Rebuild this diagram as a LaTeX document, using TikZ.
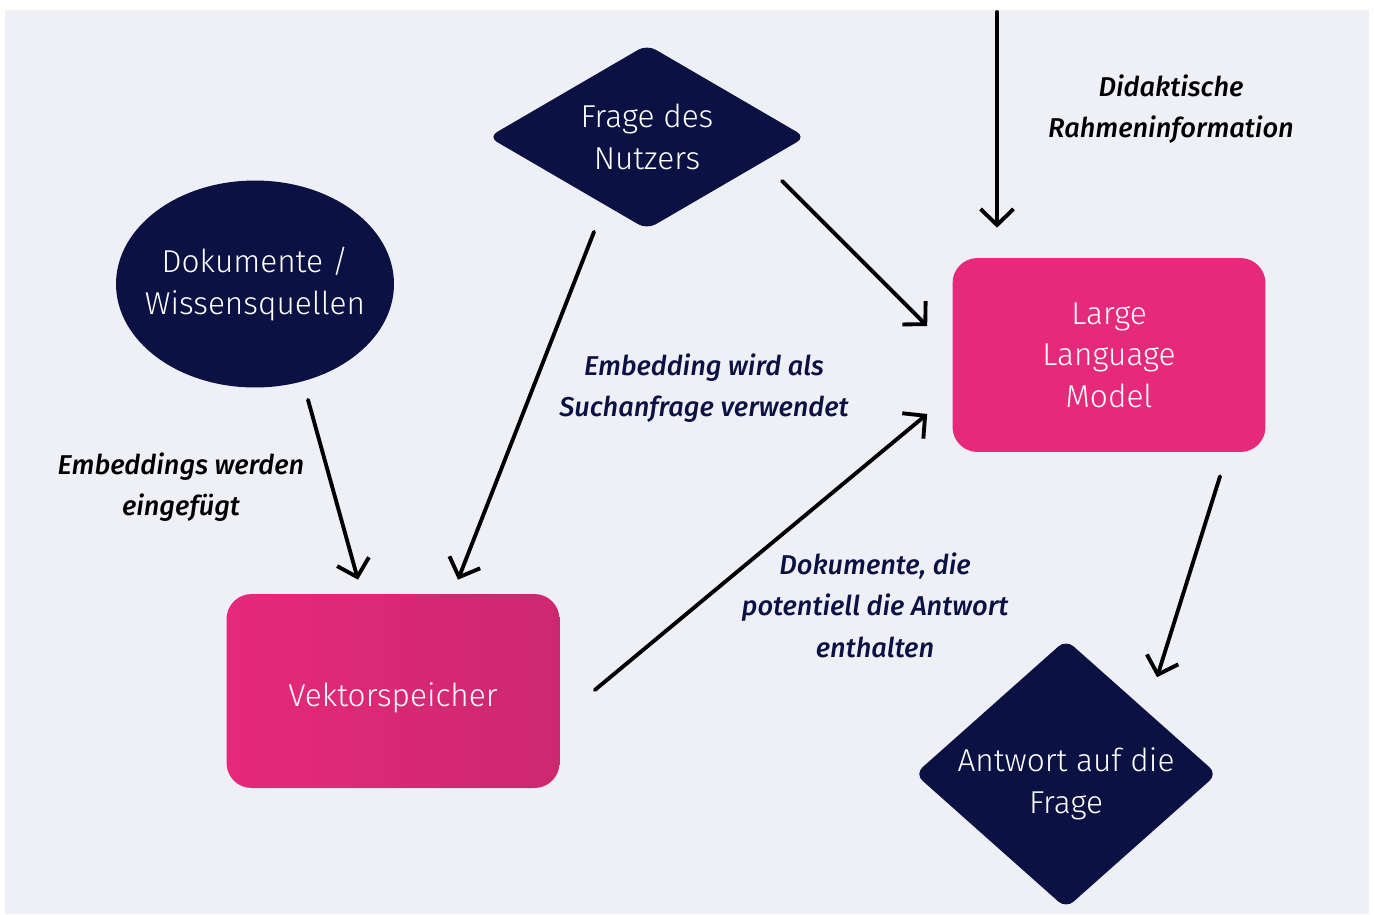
\documentclass[tikz,border=0pt]{standalone}
\usepackage{fontspec}
\setmainfont{Fira Sans Light}
\newfontfamily\labelfont{Fira Sans Medium Italic}
\usepackage{tikz}
\usetikzlibrary{shapes.geometric,arrows.meta,calc}

\definecolor{bgcol}{HTML}{EFF0F6}
\definecolor{navy}{HTML}{0B1142}
\definecolor{pink}{HTML}{E6297A}
\definecolor{pinkdark}{HTML}{CC2870}

\tikzset{
  box/.style={rectangle, rounded corners=0.5cm, minimum width=6.5cm, minimum height=3.88cm,
    text=white, align=center, font=\fontsize{18}{23.6}\selectfont},
  blob/.style={ellipse, fill=navy, minimum width=5.56cm, minimum height=4.14cm, inner sep=0pt},
  raute/.style={diamond, fill=navy, rounded corners=0.2cm, inner sep=0pt},
  innen/.style={text=white, align=center, font=\fontsize{18}{23.6}\selectfont},
  note/.style={align=center, font=\labelfont\fontsize{15.5}{23.6}\selectfont},
  pfeil/.style={line width=2.2pt, line cap=round, line join=round,
    -{Straight Barb[length=0.32cm, width=0.66cm, line width=2.2pt]}}
}

\begin{document}
\begin{tikzpicture}[x=0.02cm, y=-0.02cm]
    \useasboundingbox (0,0) rectangle (1375,914);
    \fill[bgcol] (5,10) rectangle (1369,914);

    % Knoten
    \node[blob, label={[innen]center:Dokumente /\\Wissensquellen}] (dok) at (255,284) {};
    \node[raute, minimum width=6.35cm, minimum height=3.7cm,
          label={[innen]center:Frage des\\Nutzers}] (fra) at (647,137) {};
    \node[box, minimum width=6.66cm, left color=pink, right color=pinkdark,
          label={[innen, yshift=-0.14cm]center:Vektorspeicher}] (vek) at (393,691) {};
    \node[box, minimum width=6.26cm, fill=pink] (llm) at (1109,355) {Large\\Language\\Model};
    \node[raute, minimum width=6.05cm, minimum height=5.38cm,
          label={[innen, yshift=-0.2cm]center:Antwort auf die\\Frage}] (ant) at (1066,774) {};
    \coordinate (oben) at (997,12);

    % Beschriftungen
    \node[note, text=black] (t1) at (181,487) {Embeddings werden\\eingefügt};
    \node[note, text=navy]  (t2) at (704,388) {Embedding wird als\\Suchanfrage verwendet};
    \node[note, text=navy]  (t3) at (875,605) {Dokumente, die\\potentiell die Antwort\\enthalten};
    \node[note, text=black] (t4) at (1171,109) {Didaktische\\Rahmeninformation};

    % Pfeile
    \draw[pfeil] ($(dok.south)+(53,12)$) -- ($(vek.north)+(-35,-14)$);
    \draw[pfeil] ($(fra.south)+(-53,2)$) -- ($(vek.north)+(65,-14)$);
    \draw[pfeil] ($(fra.east)+(-24,44)$) -- ($(llm.west)+(-25,-29)$);
    \draw[pfeil] ($(vek.east)+(35,-1)$) -- ($(llm.west)+(-25,59)$);
    \draw[pfeil] (oben) -- ($(llm.north)+(-112,-30)$);
    \draw[pfeil] ($(llm.south)+(111,24)$) -- ($(ant.north)+(91,38)$);
\end{tikzpicture}
\end{document}
